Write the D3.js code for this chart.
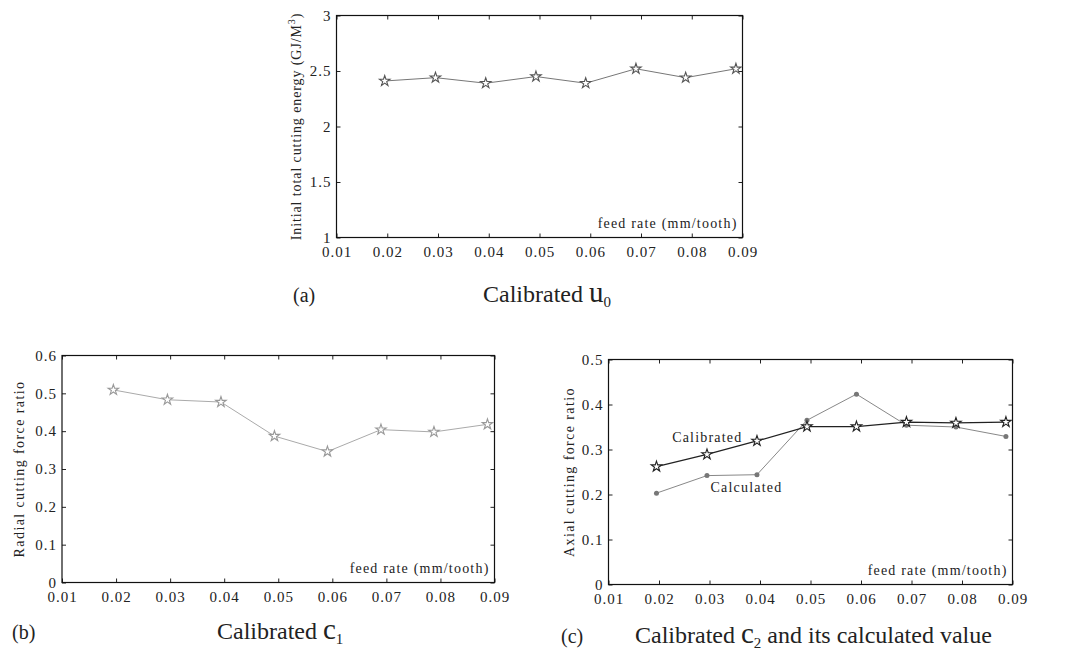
<!DOCTYPE html>
<html>
<head>
<meta charset="utf-8">
<script src="https://cdn.jsdelivr.net/npm/d3@7"></script>
<style>
  body { margin: 0; background: #fff; }
  svg text { font-family: "Liberation Serif", "Times New Roman", serif; }
</style>
</head>
<body>
<svg id="fig" width="1078" height="656"></svg>
<script>
// feed rates (mm/tooth) shared by every panel
const feedRates = [0.0195, 0.0295, 0.0394, 0.0493, 0.0591, 0.069, 0.0788, 0.0887];
const xTicks = [0.01, 0.02, 0.03, 0.04, 0.05, 0.06, 0.07, 0.08, 0.09];

const u0Values = [2.41, 2.44, 2.39, 2.45, 2.39, 2.52, 2.44, 2.52];
const u0Ticks = [1, 1.5, 2, 2.5, 3];

const c1Values = [0.509, 0.483, 0.477, 0.387, 0.346, 0.404, 0.398, 0.418];
const c1Ticks = [0, 0.1, 0.2, 0.3, 0.4, 0.5, 0.6];

const c2Calibrated = [0.262, 0.289, 0.319, 0.351, 0.351, 0.361, 0.359, 0.361];
const c2Calculated = [0.203, 0.242, 0.244, 0.365, 0.423, 0.354, 0.350, 0.329];
const c2Ticks = [0, 0.1, 0.2, 0.3, 0.4, 0.5];

const SERIF = '"Liberation Serif", "Times New Roman", serif';
const svg = d3.select('#fig');

function drawPanel(p) {
    const g = svg.append('g');
    const x = d3.scaleLinear().domain([0.01, 0.09]).range([p.left, p.right]);
    const y = d3.scaleLinear().domain([p.yTicks[0], p.yTicks[p.yTicks.length - 1]]).range([p.bottom, p.top]);

    // axes with inward ticks on all four sides
    g.append('g').attr('transform', `translate(0,${p.bottom})`)
        .call(d3.axisBottom(x).tickValues(xTicks).tickSizeInner(-4).tickSizeOuter(0).tickPadding(9).tickFormat(d => d.toFixed(2)));
    g.append('g').attr('transform', `translate(0,${p.top})`)
        .call(d3.axisTop(x).tickValues(xTicks).tickSizeInner(-4).tickSizeOuter(0).tickFormat(''));
    g.append('g').attr('transform', `translate(${p.left},0)`)
        .call(d3.axisLeft(y).tickValues(p.yTicks).tickSizeInner(-4).tickSizeOuter(0).tickPadding(5).tickFormat(d => String(d)));
    g.append('g').attr('transform', `translate(${p.right},0)`)
        .call(d3.axisRight(y).tickValues(p.yTicks).tickSizeInner(-4).tickSizeOuter(0).tickFormat(''));
    g.selectAll('.domain').remove();
    g.selectAll('g').attr('font-family', SERIF);
    g.selectAll('.tick line').attr('stroke', '#222');
    g.selectAll('.tick text').attr('font-size', 15).attr('fill', '#222')
        .attr('font-family', SERIF).style('letter-spacing', '1px');

    g.append('rect')
        .attr('x', p.left).attr('y', p.top)
        .attr('width', p.right - p.left).attr('height', p.bottom - p.top)
        .attr('fill', 'none').attr('stroke', '#111').attr('stroke-width', 1.2);

    const line = d3.line().x((d, i) => x(feedRates[i])).y(d => y(d));
    const star = d3.symbol().type(d3.symbolStar).size(34);

    p.series.forEach(s => {
        g.append('path').datum(s.values)
            .attr('d', line).attr('fill', 'none')
            .attr('stroke', s.lineColor).attr('stroke-width', s.lineWidth);
        if (s.marker === 'star') {
            g.selectAll(null).data(s.values).join('path')
                .attr('d', star)
                .attr('transform', (d, i) => `translate(${x(feedRates[i])},${y(d)})`)
                .attr('fill', '#fff').attr('stroke', s.markerColor).attr('stroke-width', 1.1);
        } else {
            g.selectAll(null).data(s.values).join('circle')
                .attr('cx', (d, i) => x(feedRates[i])).attr('cy', d => y(d)).attr('r', 2.5)
                .attr('fill', s.markerColor);
        }
    });

    // x label inside the plot
    g.append('text')
        .attr('x', p.right - 5).attr('y', p.bottom - 10)
        .attr('text-anchor', 'end').attr('font-size', 14).attr('fill', '#222')
        .attr('font-family', SERIF).style('letter-spacing', '1.2px')
        .text('feed rate (mm/tooth)');

    // rotated y label
    const yl = g.append('text')
        .attr('transform', `translate(${p.yLabelX},${(p.top + p.bottom) / 2}) rotate(-90)`)
        .attr('text-anchor', 'middle').attr('font-size', 14).attr('fill', '#222')
        .attr('font-family', SERIF).style('letter-spacing', p.yLabelSpacing || '0.9px');
    p.yLabel(yl);

    return { x, y, g };
}

drawPanel({
    left: 336.5, right: 742.5, top: 15.5, bottom: 237.5,
    yTicks: u0Ticks, yLabelX: 301,
    yLabel: t => {
        t.append('tspan').text('Initial total cutting energy (GJ/M');
        t.append('tspan').attr('font-size', 10).attr('dy', -6).text('3');
        t.append('tspan').attr('dy', 6).text(')');
    },
    series: [{ values: u0Values, lineColor: '#777', lineWidth: 1, marker: 'star', markerColor: '#555' }]
});

drawPanel({
    left: 62, right: 494.5, top: 355.5, bottom: 582.5,
    yTicks: c1Ticks, yLabelX: 24, yLabelSpacing: '1.4px',
    yLabel: t => t.text('Radial cutting force ratio'),
    series: [{ values: c1Values, lineColor: '#aaa', lineWidth: 1, marker: 'star', markerColor: '#999' }]
});

const pc = drawPanel({
    left: 608.5, right: 1012.5, top: 359.5, bottom: 584.5,
    yTicks: c2Ticks, yLabelX: 574, yLabelSpacing: '1.4px',
    yLabel: t => t.text('Axial cutting force ratio'),
    series: [
        { values: c2Calculated, lineColor: '#888', lineWidth: 1, marker: 'dot', markerColor: '#777' },
        { values: c2Calibrated, lineColor: '#222', lineWidth: 1.2, marker: 'star', markerColor: '#222' }
    ]
});

pc.g.append('text').attr('x', pc.x(0.0226)).attr('y', pc.y(0.317))
    .attr('font-size', 14).attr('fill', '#222').attr('font-family', SERIF)
    .style('letter-spacing', '1.2px').text('Calibrated');
pc.g.append('text').attr('x', pc.x(0.0302)).attr('y', pc.y(0.205))
    .attr('font-size', 14).attr('fill', '#222').attr('font-family', SERIF)
    .style('letter-spacing', '1.2px').text('Calculated');

// captions
function caption(tag, tx, ty, mx, parts) {
    svg.append('text').attr('x', tx).attr('y', ty).attr('font-size', 20).attr('fill', '#222')
        .attr('font-family', SERIF).text(tag);
    const t = svg.append('text').attr('x', mx).attr('y', ty).attr('font-size', 24).attr('fill', '#222')
        .attr('font-family', SERIF);
    parts.forEach(pt => {
        const s = t.append('tspan').text(pt.text);
        if (pt.sub) s.attr('font-size', 15).attr('dy', 5);
        if (pt.up) s.attr('dy', -5);
        if (pt.big) s.attr('font-size', 29);
    });
}

caption('(a)', 293, 302, 483, [{ text: 'Calibrated ' }, { text: 'u', big: true }, { text: '0', sub: true }]);
caption('(b)', 12, 639, 217, [{ text: 'Calibrated ' }, { text: 'c', big: true }, { text: '1', sub: true }]);
caption('(c)', 561, 643, 635, [{ text: 'Calibrated ' }, { text: 'c', big: true }, { text: '2', sub: true },
    { text: '  and its calculated value', up: true }]);
</script>
</body>
</html>
